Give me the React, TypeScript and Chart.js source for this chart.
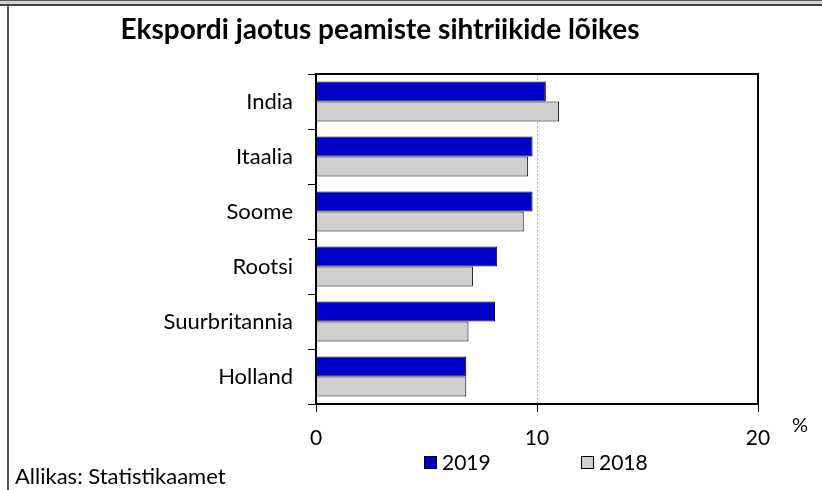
import React, { useEffect, useRef } from "react";
import { Chart, registerables } from "chart.js";

Chart.register(...registerables);

const title = "Ekspordi jaotus peamiste sihtriikide lõikes";
const categories = ["India", "Itaalia", "Soome", "Rootsi", "Suurbritannia", "Holland"];
const series2019 = [10.4, 9.8, 9.8, 8.2, 8.1, 6.8];
const series2018 = [11.0, 9.6, 9.4, 7.1, 6.9, 6.8];
const seriesNames = ["2019", "2018"];
const seriesColors = ["#0000C8", "#D0CECE"];
const xTicks = [0, 10, 20];
const unitLabel = "%";
const sourceText = "Allikas: Statistikaamet";

const FONT = "Lato, 'Open Sans', sans-serif";

const decorPlugin = {
  id: "decor",
  beforeDraw(chart: any) {
    const { ctx, width, height } = chart;
    ctx.save();
    ctx.fillStyle = "#ffffff";
    ctx.fillRect(0, 0, width, height);
    // outer frame: double line on top, single line on left
    ctx.fillStyle = "#555555";
    ctx.fillRect(0, 0, width, 1);
    ctx.fillStyle = "#d4d4d4";
    ctx.fillRect(0, 1, width, 3);
    ctx.fillStyle = "#444444";
    ctx.fillRect(0, 4, width, 2);
    ctx.fillStyle = "#555555";
    ctx.fillRect(7, 6, 2, height - 6);
    ctx.restore();
  },
  afterDraw(chart: any) {
    const { ctx, chartArea } = chart;
    ctx.save();
    // plot box
    ctx.strokeStyle = "#000";
    ctx.lineWidth = 2;
    ctx.strokeRect(chartArea.left, chartArea.top, chartArea.right - chartArea.left, chartArea.bottom - chartArea.top);
    // title
    ctx.fillStyle = "#000";
    ctx.font = `bold 28px ${FONT}`;
    ctx.textAlign = "center";
    ctx.textBaseline = "middle";
    ctx.fillText(title, 380, 30);
    // unit
    ctx.font = `20px ${FONT}`;
    ctx.textAlign = "center";
    ctx.fillText(unitLabel, 800, 426);
    // legend
    const ds = chart.data.datasets;
    const lx = [424, 581];
    ctx.font = `21px ${FONT}`;
    ctx.textAlign = "left";
    ds.forEach((d: any, i: number) => {
      ctx.fillStyle = d.backgroundColor;
      ctx.fillRect(lx[i], 456, 13, 13);
      ctx.strokeStyle = "#000";
      ctx.lineWidth = 1;
      ctx.strokeRect(lx[i] + 0.5, 456.5, 12, 12);
      ctx.fillStyle = "#000";
      ctx.fillText(d.label, lx[i] + 18, 463);
    });
    // source
    ctx.font = `22px ${FONT}`;
    ctx.textAlign = "left";
    ctx.fillText(sourceText, 15, 477);
    ctx.restore();
  },
};

export default function App() {
  const ref = useRef<HTMLCanvasElement>(null);
  useEffect(() => {
    document.body.style.margin = "0";
    const canvas = ref.current!;
    const chart = new Chart(canvas, {
      type: "bar",
      data: {
        labels: categories,
        datasets: [
          {
            label: seriesNames[0],
            data: series2019,
            backgroundColor: seriesColors[0],
            borderColor: "#000",
            borderWidth: 1,
            categoryPercentage: 0.727,
            barPercentage: 1,
          },
          {
            label: seriesNames[1],
            data: series2018,
            backgroundColor: seriesColors[1],
            borderColor: "#000",
            borderWidth: 1,
            categoryPercentage: 0.727,
            barPercentage: 1,
          },
        ],
      },
      options: {
        indexAxis: "y",
        animation: false,
        responsive: false,
        maintainAspectRatio: false,
        layout: { padding: { top: 74, right: 64, bottom: 0, left: 0 } },
        plugins: { legend: { display: false }, title: { display: false }, tooltip: { enabled: false } },
        scales: {
          x: {
            min: xTicks[0],
            max: xTicks[xTicks.length - 1],
            afterBuildTicks: (s: any) => {
              s.ticks = xTicks.map((v) => ({ value: v }));
            },
            ticks: { color: "#000", font: { family: FONT, size: 21 }, padding: 14, maxRotation: 0 },
            grid: {
              color: (c: any) => (c.tick && c.tick.value === 10 ? "#b0b0b0" : "rgba(0,0,0,0)"),
              tickColor: "#000",
              tickLength: 8,
              tickBorderDash: [],
              lineWidth: 1,
            },
            border: { display: true, color: "#000", width: 2, dash: [2, 2] },
            afterFit: (s: any) => {
              s.height = 86;
            },
          },
          y: {
            ticks: { color: "#000", font: { family: FONT, size: 22 }, padding: 15 },
            grid: { drawOnChartArea: false, offset: true, tickLength: 8, color: "#000", tickColor: "#000" },
            border: { display: true, color: "#000", width: 2 },
            afterFit: (s: any) => {
              s.width = 316;
            },
          },
        },
      },
      plugins: [decorPlugin],
    } as any);
    return () => chart.destroy();
  }, []);
  return <canvas ref={ref} width={822} height={490} style={{ display: "block", width: 822, height: 490 }} />;
}
